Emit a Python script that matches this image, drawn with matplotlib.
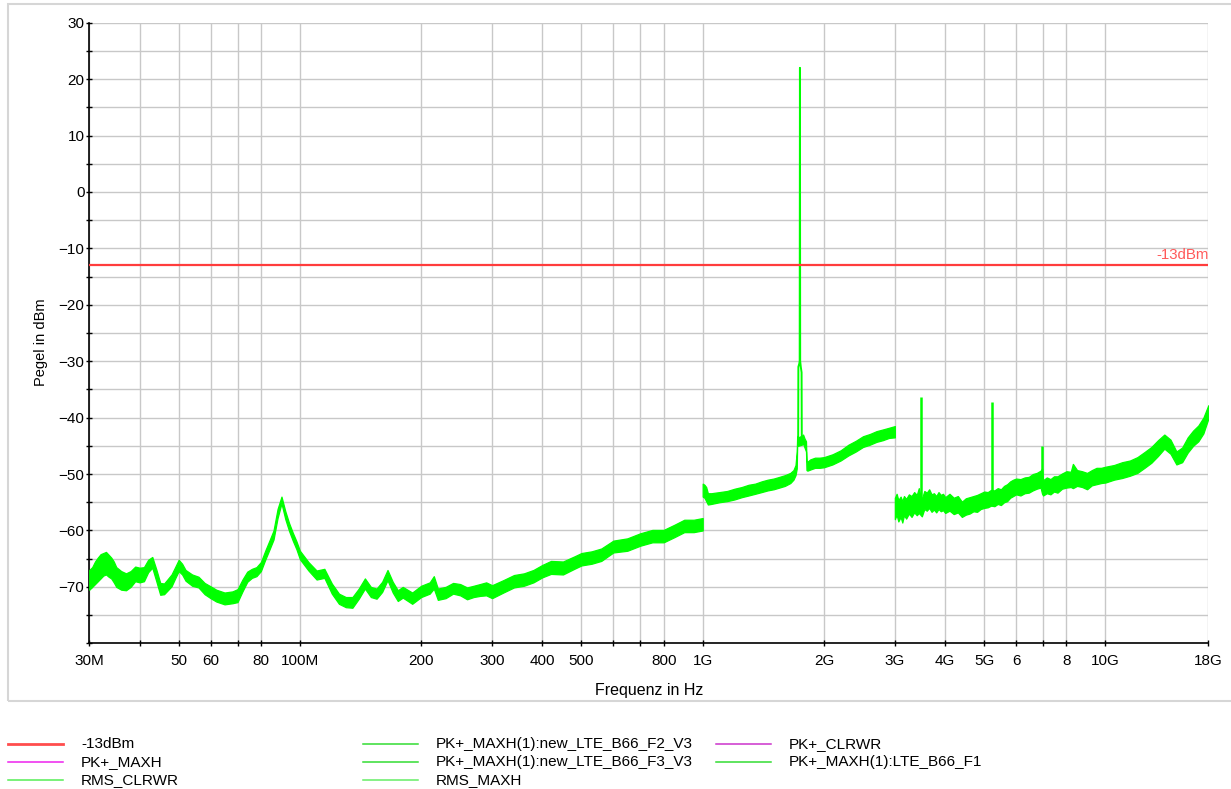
import matplotlib
matplotlib.use('Agg')
import matplotlib.pyplot as plt
from matplotlib.lines import Line2D
from matplotlib.patches import Rectangle
from matplotlib.ticker import FixedLocator, NullLocator

plt.rcParams['font.family'] = ['Liberation Sans', 'DejaVu Sans']

# ---------------- data (frequencies in MHz, levels in dBm) ----------------
limit_dbm = -13.0

seg1_f = [30, 30.5, 31, 31.5, 32, 32.5, 33, 33.5, 34, 34.5, 35, 36, 37, 38, 39, 40, 41, 42, 43,
          44, 45, 46, 47, 48, 49, 50, 51, 52, 54, 56, 58, 60, 62, 65, 68, 70, 72, 74, 76, 78,
          80, 82, 84, 86, 88, 90, 92, 94, 96, 98, 100, 105, 110, 115, 120, 125, 130, 135, 140,
          145, 150, 155, 160, 165, 170, 175, 180, 190, 200, 210, 215, 220, 230, 240, 250, 260,
          270, 280, 290, 300, 320, 340, 360, 380, 400, 420, 450, 480, 500, 530, 560, 600, 650,
          700, 750, 800, 850, 900, 950, 1000]
seg1_lo = [-70.5, -70.0, -69.5, -69.0, -68.5, -68.0, -67.8, -68.2, -68.5, -69.2, -70.0, -70.5,
           -70.6, -70.0, -69.0, -69.2, -69.0, -67.4, -66.6, -69.0, -71.4, -71.3, -70.6, -69.9,
           -68.5, -67.2, -67.8, -68.9, -69.8, -70.1, -71.3, -72.0, -72.6, -73.1, -72.9, -72.7,
           -70.8, -69.1, -68.4, -68.1, -67.2, -65.2, -63.4, -61.6, -57.8, -55.2, -58.0, -60.1,
           -61.8, -63.3, -65.1, -67.1, -68.7, -68.4, -71.2, -73.0, -73.6, -73.7, -72.1, -70.3,
           -71.8, -72.1, -70.9, -68.8, -71.0, -72.5, -71.9, -73.0, -71.8, -71.2, -70.3, -72.3,
           -72.0, -71.2, -71.5, -72.2, -71.8, -71.6, -71.5, -72.0, -71.0, -70.1, -69.8, -69.2,
           -68.3, -67.7, -67.8, -66.8, -66.2, -65.9, -65.4, -63.9, -63.6, -62.7, -62.1, -62.1,
           -61.2, -60.3, -60.3, -60.0]
seg1_hi = [-67.0, -66.5, -65.5, -64.8, -64.2, -64.0, -63.8, -64.3, -64.8, -65.5, -66.5, -67.2,
           -67.6, -67.2, -66.4, -66.6, -66.5, -65.2, -64.7, -66.9, -69.3, -69.4, -68.6, -67.8,
           -66.5, -65.2, -65.9, -67.0, -67.8, -68.2, -69.3, -69.9, -70.5, -71.0, -70.8, -70.4,
           -68.7, -67.3, -66.8, -66.5, -65.6, -63.6, -61.8, -60.0, -56.2, -54.0, -56.6, -58.7,
           -60.4, -61.9, -63.6, -65.6, -67.1, -66.8, -69.4, -71.2, -71.8, -71.8, -70.3, -68.5,
           -70.0, -70.3, -69.1, -67.0, -69.1, -70.6, -70.0, -71.0, -69.8, -69.2, -68.1, -70.3,
           -70.0, -69.3, -69.5, -70.1, -69.8, -69.5, -69.2, -69.7, -68.8, -67.9, -67.6, -67.0,
           -66.1, -65.4, -65.5, -64.6, -64.0, -63.7, -63.2, -61.8, -61.4, -60.5, -59.9, -59.9,
           -59.0, -58.1, -58.1, -57.8]

seg2_f = [1000, 1010, 1020, 1030, 1050, 1100, 1150, 1200, 1250, 1300, 1350, 1400, 1450, 1500,
          1550, 1600, 1650, 1680, 1700, 1712, 1716, 1722, 1726, 1762, 1775, 1790, 1805, 1810,
          1820, 1850, 1900, 1950, 2000, 2100, 2200, 2300, 2400, 2500, 2600, 2700, 2800, 2900,
          3000]
seg2_lo = [-54.0, -54.2, -54.8, -55.4, -55.3, -55.0, -54.8, -54.5, -54.1, -53.8, -53.5, -53.2,
           -52.9, -52.7, -52.4, -52.1, -51.6, -51.0, -50.2, -49.0, -45.0, -44.8, -45.0, -44.8,
           -44.6, -45.3, -46.0, -49.3, -49.4, -49.2, -48.9, -48.9, -48.8, -48.3, -47.6, -46.7,
           -46.0, -45.2, -44.8, -44.3, -44.0, -43.6, -43.5]
seg2_hi = [-51.7, -51.9, -52.3, -53.4, -53.4, -53.2, -53.0, -52.6, -52.3, -51.9, -51.7, -51.3,
           -51.0, -50.8, -50.5, -50.2, -49.8, -49.3, -48.4, -46.0, -43.4, -43.2, -43.5, -43.2,
           -43.0, -43.7, -44.2, -47.7, -47.8, -47.4, -47.1, -47.1, -47.0, -46.5, -45.8, -44.8,
           -44.1, -43.3, -42.9, -42.4, -42.1, -41.8, -41.5]

carrier_f = [1726, 1728, 1736, 1741, 1743.5, 1746, 1752, 1760, 1762]
carrier_v = [-44.0, -31.0, -30.5, -30.0, 22.0, -30.0, -31.0, -32.0, -44.0]

seg3_f = [3000, 3030, 3060, 3100, 3130, 3160, 3200, 3250, 3300, 3350, 3400, 3440, 3470, 3500,
          3550, 3600, 3650, 3700, 3750, 3800, 3850, 3900, 3950, 4000, 4100, 4200, 4300, 4400,
          4500, 4600, 4700, 4800, 4900, 5000, 5100, 5200, 5300, 5400, 5500, 5600, 5700, 5800,
          5900, 6000, 6150, 6300, 6450, 6600, 6750, 6900, 6960, 7000, 7150, 7300, 7450, 7600,
          7800, 8000, 8200, 8300, 8500, 8750, 9000, 9250, 9500, 9750, 10000, 10500, 11000,
          11500, 12000, 12500, 13000, 13500, 14000, 14500, 15000, 15500, 16000, 16500, 17000,
          17500, 18000]
seg3_lo = [-58.0, -57.2, -58.4, -57.6, -58.6, -57.3, -57.9, -57.0, -57.6, -56.8, -57.3, -56.9,
           -57.2, -57.5, -56.2, -56.5, -56.0, -56.7, -56.3, -56.8, -56.2, -56.6, -56.4, -56.9,
           -56.5, -57.1, -56.8, -57.6, -57.2, -57.0, -56.6, -56.7, -56.2, -56.0, -55.9, -55.6,
           -55.7, -55.3, -55.5, -55.0, -54.8, -54.2, -53.9, -53.6, -53.8, -53.4, -53.3, -52.9,
           -52.6, -52.4, -53.5, -53.8, -53.4, -53.6, -53.1, -53.3, -52.6, -52.4, -52.3, -52.5,
           -52.1, -52.3, -52.7, -52.0, -51.8, -51.6, -51.5, -51.0, -50.7, -50.3, -49.8, -48.9,
           -48.0, -46.8, -45.5, -46.4, -48.3, -47.9, -46.2, -45.0, -44.2, -42.8, -40.2]
seg3_hi = [-54.2, -53.5, -54.6, -54.0, -54.8, -53.9, -54.4, -53.6, -53.9, -53.2, -53.7, -52.5,
           -53.8, -54.4, -53.0, -53.3, -52.7, -53.6, -53.4, -53.9, -53.2, -53.7, -53.5, -54.1,
           -53.5, -54.2, -53.9, -54.9, -54.3, -54.1, -53.9, -53.7, -53.4, -53.1, -53.2, -52.8,
           -52.9, -52.5, -52.7, -52.1, -51.8, -51.3, -51.0, -50.8, -50.9, -50.6, -50.5, -50.0,
           -49.8, -49.4, -49.0, -51.1, -50.6, -50.9, -50.4, -50.4, -49.9, -49.5, -49.6, -48.2,
           -49.3, -49.5, -49.8, -49.3, -48.9, -48.9, -48.7, -48.4, -47.9, -47.6, -47.0, -46.1,
           -45.2, -44.0, -43.0, -43.9, -46.0, -45.3, -43.5, -42.3, -41.4, -40.0, -37.8]

spur_f = [3475, 5225, 6945]
spur_base = [-55.0, -54.0, -51.0]
spur_top = [-36.4, -37.3, -45.0]

y_major = [-70, -60, -50, -40, -30, -20, -10, 0, 10, 20, 30]
y_minor = [-80, -75, -65, -55, -45, -35, -25, -15, -5, 5, 15, 25]
x_ticks_mhz = [30, 40, 50, 60, 70, 80, 100, 200, 300, 400, 500, 600, 700, 800, 1000, 2000,
               3000, 4000, 5000, 6000, 7000, 8000, 10000, 18000]
x_tick_labels = ['30M', '', '50', '60', '', '80', '100M', '200', '300', '400', '500', '', '',
                 '800', '1G', '2G', '3G', '4G', '5G', '6', '', '8', '10G', '18G']

legend_labels = ['-13dBm', 'PK+_MAXH', 'RMS_CLRWR',
                 'PK+_MAXH(1):new_LTE_B66_F2_V3', 'PK+_MAXH(1):new_LTE_B66_F3_V3', 'RMS_MAXH',
                 'PK+_CLRWR', 'PK+_MAXH(1):LTE_B66_F1']
legend_colors = ['#ff4d4d', '#ee22ee', '#55ee55', '#33dd33', '#33dd33', '#66ee66',
                 '#cc33cc', '#33dd33']

# ---------------- figure ----------------
W, H = 1231, 789
fig = plt.figure(figsize=(W / 100, H / 100), dpi=100)
L, R, T, B = 89.3, 1208.3, 22.7, 643.3
ax = fig.add_axes([L / W, 1 - B / H, (R - L) / W, (B - T) / H])

MHZ = 1e6
trace_color = '#00ff00'
for f, lo, hi in ((seg1_f, seg1_lo, seg1_hi), (seg2_f, seg2_lo, seg2_hi), (seg3_f, seg3_lo, seg3_hi)):
    fx = [v * MHZ for v in f]
    ax.fill_between(fx, lo, hi, color=trace_color, lw=0.9, zorder=3)
ax.plot([v * MHZ for v in carrier_f], carrier_v, color=trace_color, lw=1.4, zorder=3)
ax.vlines([v * MHZ for v in spur_f], spur_base, spur_top, color=trace_color, lw=1.8, zorder=3)

ax.axhline(limit_dbm, color='#ff3c3c', lw=1.6, zorder=4)
ax.text(18000 * MHZ, limit_dbm + 0.6, '-13dBm', color='#ff5a5a', fontsize=10.8,
        ha='right', va='bottom', zorder=5)

ax.set_xscale('log')
ax.set_xlim(30 * MHZ, 18000 * MHZ)
ax.set_ylim(-80, 30)

ax.xaxis.set_major_locator(FixedLocator([v * MHZ for v in x_ticks_mhz]))
ax.set_xticklabels(x_tick_labels)
ax.xaxis.set_minor_locator(NullLocator())
ax.yaxis.set_major_locator(FixedLocator(y_major))
ax.yaxis.set_minor_locator(FixedLocator(y_minor))

ax.grid(True, which='major', color='#c8c8c8', lw=1.0, zorder=0)
ax.grid(True, which='minor', axis='y', color='#c8c8c8', lw=1.0, zorder=0)
ax.set_axisbelow(True)

for s in ('top', 'right'):
    ax.spines[s].set_visible(False)
for s in ('left', 'bottom'):
    ax.spines[s].set_color('black')
    ax.spines[s].set_linewidth(1.2)

ax.tick_params(axis='both', which='both', direction='inout', length=5, width=1.0,
               colors='black', labelsize=11)
ax.tick_params(axis='y', which='both', pad=1)
ax.tick_params(axis='x', which='both', pad=5)

fig.text(648.8 / W, 1 - 690 / H, 'Frequenz in Hz', fontsize=11.5, ha='center', va='center')
fig.text(41 / W, 1 - 342 / H, 'Pegel in dBm', fontsize=10.5, rotation=90,
         ha='center', va='center')

# outer frame
fig.add_artist(Rectangle((8 / W, 1 - 701 / H), (W + 10 - 8) / W, (701 - 4) / H,
                         transform=fig.transFigure, fill=False, ec='#d6d6d6', lw=1.5))

# legend (manual layout, three columns)
col_x = [8, 363, 716]
row_y = [744, 762, 780]
for i, (lab, col) in enumerate(zip(legend_labels, legend_colors)):
    c, r = divmod(i, 3)
    x0 = col_x[c]
    y0 = row_y[r]
    lw = 2.0 if i == 0 else 1.1
    fig.add_artist(Line2D([x0 / W, (x0 + 55) / W], [1 - y0 / H, 1 - y0 / H],
                          transform=fig.transFigure, color=col, lw=lw))
    fig.text((x0 + 73) / W, 1 - y0 / H, lab, fontsize=11, ha='left', va='center')

fig.savefig('out.png', dpi=100)
